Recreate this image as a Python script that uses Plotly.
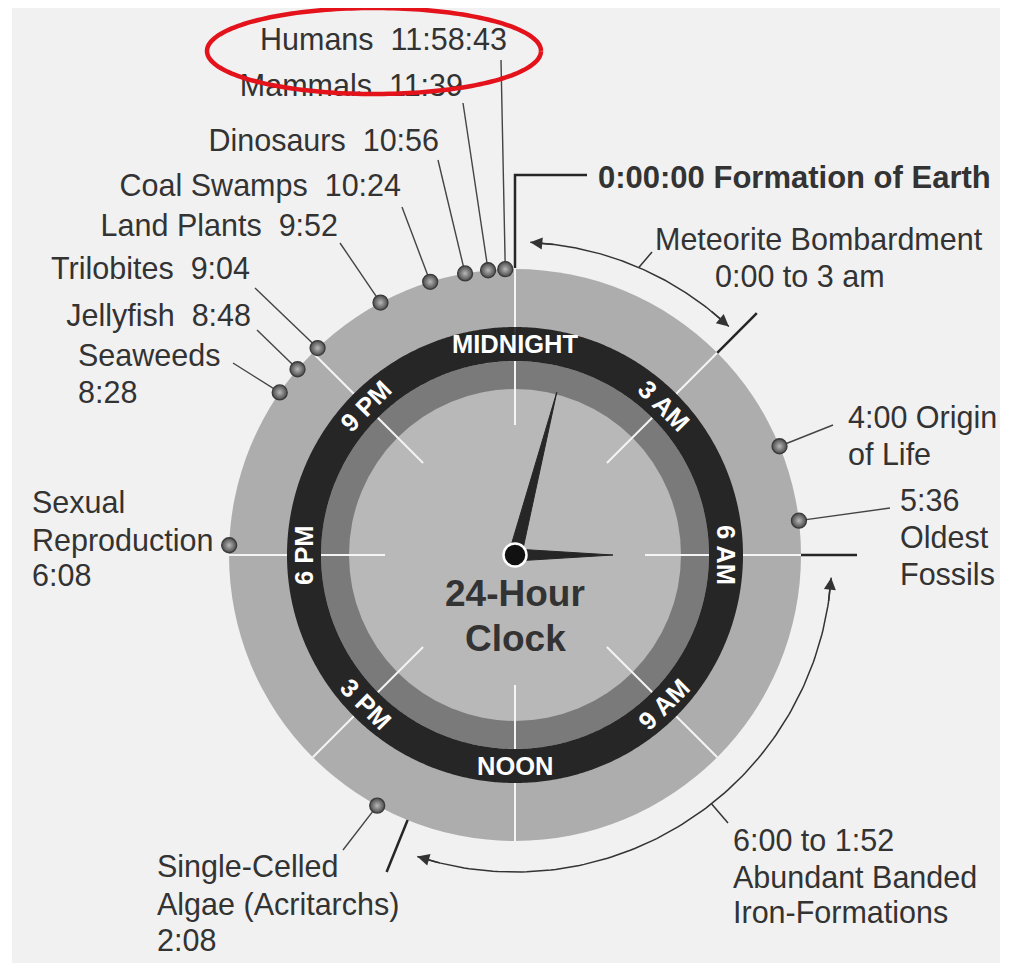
import numpy as np
import plotly.graph_objects as go

# ---------------- data ----------------
hour_labels = ["MIDNIGHT", "3 AM", "6 AM", "9 AM", "NOON", "3 PM", "6 PM", "9 PM"]
hour_marks = [0, 3, 6, 9, 12, 15, 18, 21]

events = ["Humans", "Mammals", "Dinosaurs", "Coal Swamps", "Land Plants", "Trilobites",
          "Jellyfish", "Seaweeds", "Sexual Reproduction", "Origin of Life",
          "Oldest Fossils", "Single-Celled Algae (Acritarchs)"]
event_times = ["11:58:43", "11:39", "10:56", "10:24", "9:52", "9:04",
               "8:48", "8:28", "6:08", "4:00", "5:36", "2:08"]
# position of each marker on the 24-hour dial (hours), as drawn in the picture
event_dial_hours = [23.87, 23.64, 23.33, 22.85, 22.13, 21.09,
                    20.70, 20.31, 18.13, 4.51, 5.54, 13.92]

periods = ["Meteorite Bombardment", "Abundant Banded Iron-Formations"]
period_start_h = [0.0, 6.0]
period_end_h = [3.0, 13.47]

hand_hours = [0.96, 6.0]          # long hand, short hand

# ---------------- helpers / style ----------------
CX, CY = 515, 555                 # page-pixel centre of the dial
PAGE_OFF = 8                      # default body margin of the html page


def pol(h, r):
    a = np.deg2rad(np.asarray(h, dtype=float) * 15.0)
    return r * np.sin(a), r * np.cos(a)


def P(px, py):
    return px - CX, CY - py


R_OUT, R_DARK_O, R_DARK_I, R_MED_I = 286, 228, 194, 166
R_TICK_IN = 130
FONT = "Liberation Sans, Arial, sans-serif"
TXT = "#333333"
DARK = "#262626"
FS = 30.5

fig = go.Figure()
shapes = []

# background scan area
shapes.append(dict(type="rect", xref="x", yref="y", x0=P(12, 8)[0], y0=P(12, 8)[1],
                   x1=P(1000, 980)[0], y1=P(1000, 980)[1], fillcolor="#f1f1f1",
                   line=dict(width=0), layer="below"))
for r, col in [(R_OUT, "#adadad"), (R_DARK_I, "#7a7a7a"), (R_MED_I, "#b8b8b8")]:
    shapes.append(dict(type="circle", xref="x", yref="y", x0=-r, y0=-r, x1=r, y1=r,
                       fillcolor=col, line=dict(width=0), layer="below"))

# white radial lines every 3 hours
wx, wy = [], []
for h in hour_marks:
    x0, y0 = pol(h, R_TICK_IN)
    x1, y1 = pol(h, R_OUT)
    wx += [x0, x1, None]
    wy += [y0, y1, None]
fig.add_trace(go.Scatter(x=wx, y=wy, mode="lines", line=dict(color="#f4f4f4", width=2),
                         hoverinfo="skip"))

# dark ring
th = np.linspace(0, 24, 721)
rx, ry = pol(th, (R_DARK_O + R_DARK_I) / 2)
fig.add_trace(go.Scatter(x=rx, y=ry, mode="lines",
                         line=dict(color=DARK, width=R_DARK_O - R_DARK_I, simplify=False),
                         hoverinfo="skip"))

# hands
for h, length, w in zip(hand_hours, [168, 98], [6.5, 6.0]):
    tx, ty = pol(h, length)
    px_, py_ = pol(h + 6, w)
    fig.add_trace(go.Scatter(x=[px_, tx, -px_, px_], y=[py_, ty, -py_, py_], mode="lines",
                             fill="toself", fillcolor=DARK, line=dict(color=DARK, width=1),
                             hoverinfo="skip"))
fig.add_trace(go.Scatter(x=[0], y=[0], mode="markers",
                         marker=dict(size=23, color="#111111", line=dict(color="white", width=2.5)),
                         hoverinfo="skip"))

# dark ticks at period boundaries (outside the disk)
tx_, ty_ = [], []
for h in sorted(set(period_start_h[1:] + period_end_h)):
    a0 = pol(h, R_OUT)
    a1 = pol(h, 342)
    tx_ += [a0[0], a1[0], None]
    ty_ += [a0[1], a1[1], None]
# formation of earth bracket
e0 = pol(period_start_h[0], R_OUT + 1)
tx_ += [e0[0], e0[0], P(587, 175)[0], None]
ty_ += [e0[1], P(587, 175)[1], P(587, 175)[1], None]
fig.add_trace(go.Scatter(x=tx_, y=ty_, mode="lines", line=dict(color=DARK, width=2.5),
                         hoverinfo="skip"))

# period arcs
arc_r = [313, 317]
gap = [(2.8 / 15, 1.9 / 15), (4.1 / 15, 4.1 / 15)]
arcs_x, arcs_y = [], []
annotations = []
for s, e, r, (g0, g1) in zip(period_start_h, period_end_h, arc_r, gap):
    hh = np.linspace(s + g0, e - g1, 120)
    ax_, ay_ = pol(hh, r)
    arcs_x += list(ax_) + [None]
    arcs_y += list(ay_) + [None]
    for tip, back in [(s + g0, s + g0 + 0.3), (e - g1, e - g1 - 0.3)]:
        X, Y = pol(tip, r)
        BX, BY = pol(back, r)
        annotations.append(dict(x=X, y=Y, ax=BX, ay=BY, xref="x", yref="y", axref="x", ayref="y",
                                text="", showarrow=True, arrowhead=2, arrowsize=1.6,
                                arrowwidth=1.5, arrowcolor="#333333"))
# arc leader lines
for hh_, r, end in [(23.3 / 15, 313, (652, 252)), (141.7 / 15, 317, (728, 823))]:
    X, Y = pol(hh_, r)
    arcs_x += [X, P(*end)[0], None]
    arcs_y += [Y, P(*end)[1], None]
fig.add_trace(go.Scatter(x=arcs_x, y=arcs_y, mode="lines", line=dict(color="#333333", width=1.5),
                         hoverinfo="skip"))

# event leader lines
leader_ends = [(501, 60), (463, 103), (438, 160), (402, 207), (340, 243), (255, 288),
               (257, 330), (233, 363), None, (833, 425), (890, 508), (343, 850)]
dx, dy = pol(event_dial_hours, R_OUT)
lx, ly = [], []
for x0, y0, end in zip(dx, dy, leader_ends):
    if end is None:
        continue
    lx += [x0, P(*end)[0], None]
    ly += [y0, P(*end)[1], None]
fig.add_trace(go.Scatter(x=lx, y=ly, mode="lines", line=dict(color="#444444", width=1.4),
                         hoverinfo="skip"))

# event markers
fig.add_trace(go.Scatter(x=dx, y=dy, mode="markers",
                         marker=dict(size=15, color="#4a4a4a",
                                     gradient=dict(type="radial", color="#b8b8b8"),
                                     line=dict(color="#3a3a3a", width=1.3)),
                         hoverinfo="skip"))

# outside labels
sp = "\u00a0 "
label_lines = [
    (f"{events[0]}{sp}{event_times[0]}", 507, 42, "middle left"),
    (f"{events[1]}{sp}{event_times[1]}", 463, 88, "middle left"),
    (f"{events[2]}{sp}{event_times[2]}", 439, 143, "middle left"),
    (f"{events[3]}{sp}{event_times[3]}", 401, 188, "middle left"),
    (f"{events[4]}{sp}{event_times[4]}", 338, 228, "middle left"),
    (f"{events[5]}{sp}{event_times[5]}", 250, 271, "middle left"),
    (f"{events[6]}{sp}{event_times[6]}", 251, 318, "middle left"),
    (events[7], 78, 358, "middle right"),
    (event_times[7], 78, 395, "middle right"),
    ("Sexual", 32, 505, "middle right"),
    ("Reproduction", 32, 543, "middle right"),
    (event_times[8], 32, 578, "middle right"),
    (f"{event_times[9]} Origin", 848, 420, "middle right"),
    ("of Life", 848, 457, "middle right"),
    (event_times[10], 900, 503, "middle right"),
    ("Oldest", 900, 540, "middle right"),
    ("Fossils", 900, 577, "middle right"),
    (periods[0], 655, 242, "middle right"),
    ("0:00 to 3 am", 715, 279, "middle right"),
    ("6:00 to 1:52", 733, 843, "middle right"),
    ("Abundant Banded", 733, 880, "middle right"),
    ("Iron-Formations", 733, 915, "middle right"),
    ("Single-Celled", 157, 869, "middle right"),
    ("Algae (Acritarchs)", 157, 907, "middle right"),
    (event_times[11], 157, 943, "middle right"),
]
fig.add_trace(go.Scatter(
    x=[P(a, b)[0] for _, a, b, _ in label_lines],
    y=[P(a, b)[1] for _, a, b, _ in label_lines],
    text=[t for t, _, _, _ in label_lines],
    textposition=[p for _, _, _, p in label_lines],
    mode="text", marker=dict(size=1),
    textfont=dict(family=FONT, size=FS, color=TXT), hoverinfo="skip"))
fig.add_trace(go.Scatter(
    x=[P(598, 180)[0]], y=[P(598, 180)[1]], text=["<b>0:00:00 Formation of Earth</b>"],
    textposition="middle right", mode="text", marker=dict(size=1),
    textfont=dict(family=FONT, size=31, color=TXT), hoverinfo="skip"))

# red highlight ellipse (drawn on top of the labels)
el_t = np.linspace(0, 2 * np.pi, 200)
ecx, ecy = P(374, 51)
fig.add_trace(go.Scatter(x=ecx + 167 * np.cos(el_t), y=ecy + 43 * np.sin(el_t), mode="lines",
                         line=dict(color="#e3121b", width=4.5, simplify=False), hoverinfo="skip"))

# hour labels on the dark ring
for lab, h in zip(hour_labels, hour_marks):
    a = (h * 15) % 360
    ang = a - 180 if 90 < a < 270 else (a - 360 if a >= 270 else a)
    X, Y = pol(h, 211)
    annotations.append(dict(x=X, y=Y, xref="x", yref="y", text=f"<b>{lab}</b>", showarrow=False,
                            textangle=ang, xanchor="center", yanchor="middle",
                            font=dict(family=FONT, size=25.5, color="white")))

# centre title
for txt, py in [("24-Hour", 593), ("Clock", 638)]:
    X, Y = P(515, py)
    annotations.append(dict(x=X, y=Y, xref="x", yref="y", text=f"<b>{txt}</b>", showarrow=False,
                            xanchor="center", yanchor="middle",
                            font=dict(family=FONT, size=37, color=TXT)))

W, H = 1030 - 2 * PAGE_OFF, 971 - 2 * PAGE_OFF
fig.update_layout(
    width=W, height=H, margin=dict(l=0, r=0, t=0, b=0),
    paper_bgcolor="white", plot_bgcolor="white", showlegend=False,
    xaxis=dict(range=[PAGE_OFF - CX, PAGE_OFF + W - CX], visible=False, fixedrange=True),
    yaxis=dict(range=[CY - PAGE_OFF - H, CY - PAGE_OFF], visible=False, fixedrange=True),
    shapes=shapes, annotations=annotations,
)
fig.write_html("out.html")
